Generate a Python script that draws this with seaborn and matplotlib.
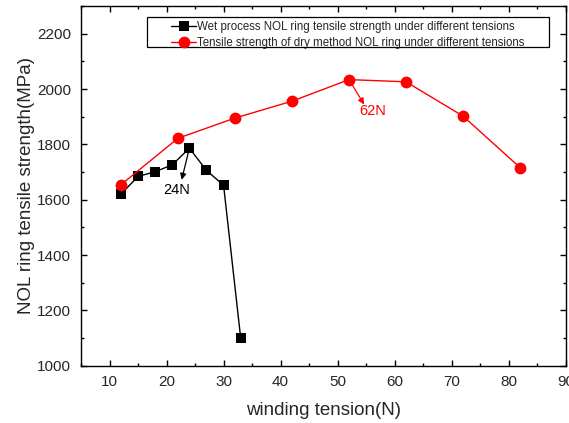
import matplotlib
matplotlib.use("Agg")
import matplotlib.pyplot as plt
from matplotlib.ticker import MultipleLocator
from matplotlib.patches import Rectangle
import seaborn as sns
import pandas as pd

# Wet-process NOL rings
wet_tension = [12, 15, 18, 21, 24, 27, 30, 33]
wet_strength = [1620, 1684, 1701, 1726, 1786, 1706, 1652, 1100]

# Dry-process NOL rings
dry_tension = [12, 22, 32, 42, 52, 62, 72, 82]
dry_strength = [1654, 1822, 1895, 1956, 2034, 2026, 1902, 1716]

wet_label = "Wet process NOL ring tensile strength under different tensions"
dry_label = "Tensile strength of dry method NOL ring under different tensions"

sns.set_style("ticks")
plt.rcParams["font.family"] = ["Liberation Sans", "DejaVu Sans"]

fig = plt.figure(figsize=(5.69, 4.23), dpi=100)
ax = fig.add_axes([0.1424, 0.1355, 0.8518, 0.8503])

wet = pd.DataFrame({"x": wet_tension, "y": wet_strength})
dry = pd.DataFrame({"x": dry_tension, "y": dry_strength})

sns.lineplot(data=wet, x="x", y="y", ax=ax, color="black", marker="s",
             markersize=7, markeredgewidth=0, linewidth=1.0, sort=False,
             label=wet_label)
sns.lineplot(data=dry, x="x", y="y", ax=ax, color="red", marker="o",
             markersize=8.5, markeredgewidth=0, linewidth=1.0, sort=False,
             label=dry_label)

ax.set_xlim(5, 90)
ax.set_ylim(1000, 2300)
ax.xaxis.set_major_locator(MultipleLocator(10))
ax.xaxis.set_minor_locator(MultipleLocator(5))
ax.yaxis.set_major_locator(MultipleLocator(200))
ax.yaxis.set_minor_locator(MultipleLocator(100))
ax.set_yticks([1000, 1200, 1400, 1600, 1800, 2000, 2200])
ax.tick_params(which="both", direction="in", top=True, right=True,
               labeltop=False, labelright=False, color="black", width=1.0)
ax.tick_params(which="major", length=4, labelsize=11, pad=7)
ax.tick_params(which="minor", length=2)
for s in ax.spines.values():
    s.set_color("black")
    s.set_linewidth(1.0)

ax.set_xlabel("winding tension(N)", fontsize=13.5, labelpad=9)
ax.set_ylabel("NOL ring tensile strength(MPa)", fontsize=13.5, labelpad=1.5)

# Peak annotations
i_wet = wet_strength.index(max(wet_strength))
ax.annotate("", xy=(22.65, 1672), xytext=(wet_tension[i_wet], wet_strength[i_wet]),
            arrowprops=dict(arrowstyle="-|>", color="black", lw=0.9,
                            mutation_scale=9, shrinkA=0, shrinkB=0))
ax.text(21.8, 1636, "24N", fontsize=10.5, color="black", ha="center", va="center")

i_dry = dry_strength.index(max(dry_strength))
ax.annotate("", xy=(54.65, 1944), xytext=(dry_tension[i_dry], dry_strength[i_dry]),
            arrowprops=dict(arrowstyle="-|>", color="red", lw=0.9,
                            mutation_scale=9, shrinkA=0, shrinkB=0))
ax.text(56.2, 1919, "62N", fontsize=10.5, color="red", ha="center", va="center")

# Legend entries with a separately drawn box around them
leg = ax.legend(loc="upper left", bbox_to_anchor=(0.1857, 0.958), fontsize=8.3,
                frameon=False, handlelength=2.2, handletextpad=0.05,
                borderpad=0, labelspacing=0.35, borderaxespad=0)
ax.add_patch(Rectangle((0.136, 0.885), 0.9655 - 0.136, 0.9686 - 0.885,
                       transform=ax.transAxes, fill=True, facecolor="white",
                       edgecolor="black", linewidth=0.9, zorder=4))
leg.set_zorder(5)

fig.savefig("out.png", dpi=100)
